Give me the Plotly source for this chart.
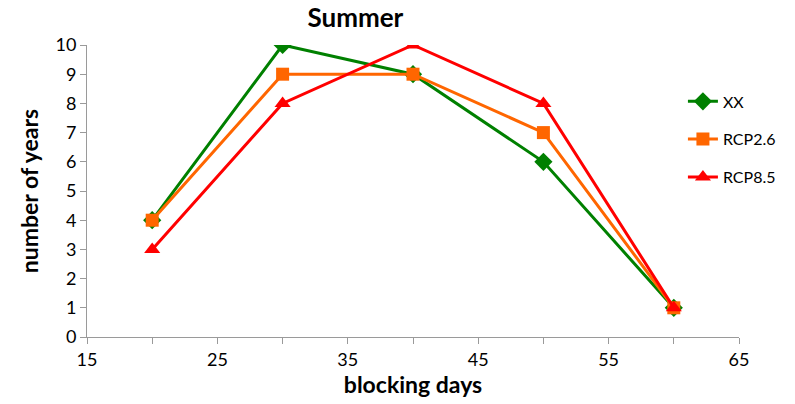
import plotly.graph_objects as go

# Blocking-day bins and number of years per scenario
blocking_days = [20, 30, 40, 50, 60]
xx = [4, 10, 9, 6, 1]
rcp26 = [4, 9, 9, 7, 1]
rcp85 = [3, 8, 10, 8, 1]

x_ticks = [15, 20, 25, 30, 35, 40, 45, 50, 55, 60, 65]
x_tick_text = ["15", "", "25", "", "35", "", "45", "", "55", "", "65"]
y_ticks = list(range(0, 11))

FONT = "Lato, 'Open Sans', sans-serif"

series = [
    ("XX", xx, "#008000", "diamond", 14),
    ("RCP2.6", rcp26, "#FF6600", "square", 13),
    ("RCP8.5", rcp85, "#FF0000", "triangle-up", 14),
]

fig = go.Figure()
for name, vals, color, symbol, size in series:
    fig.add_trace(go.Scatter(
        x=blocking_days, y=vals, name=name, legendgroup=name,
        mode="lines+markers",
        line=dict(color=color, width=3),
        marker=dict(symbol=symbol, size=size, color=color),
    ))

fig.update_layout(
    width=795, height=404,
    margin=dict(l=87, r=56, t=45, b=67),
    paper_bgcolor="white", plot_bgcolor="white",
    font=dict(family=FONT, size=18, color="black"),
    title=dict(text="<b>Summer</b>", x=0.447, xanchor="center", y=0.955, yanchor="middle",
               font=dict(size=26, family=FONT)),
    legend=dict(x=0.914, y=0.865, xanchor="left", yanchor="top",
                font=dict(size=16, family=FONT), tracegroupgap=14,
                bgcolor="rgba(0,0,0,0)"),
    xaxis=dict(range=[15, 65], tickvals=x_ticks, ticktext=x_tick_text,
               showgrid=False, zeroline=False, showline=True, linecolor="#9a9a9a", linewidth=1,
               ticks="outside", ticklen=6, tickcolor="#9a9a9a",
               title=dict(text="<b>blocking days</b>", font=dict(size=23), standoff=6)),
    yaxis=dict(range=[0, 10], tickvals=y_ticks,
               showgrid=False, zeroline=False, showline=True, linecolor="#9a9a9a", linewidth=1,
               ticks="outside", ticklen=6, tickcolor="#9a9a9a",
               title=dict(text="<b>number of years</b>", font=dict(size=23), standoff=10)),
)

fig.write_html("out.html")
